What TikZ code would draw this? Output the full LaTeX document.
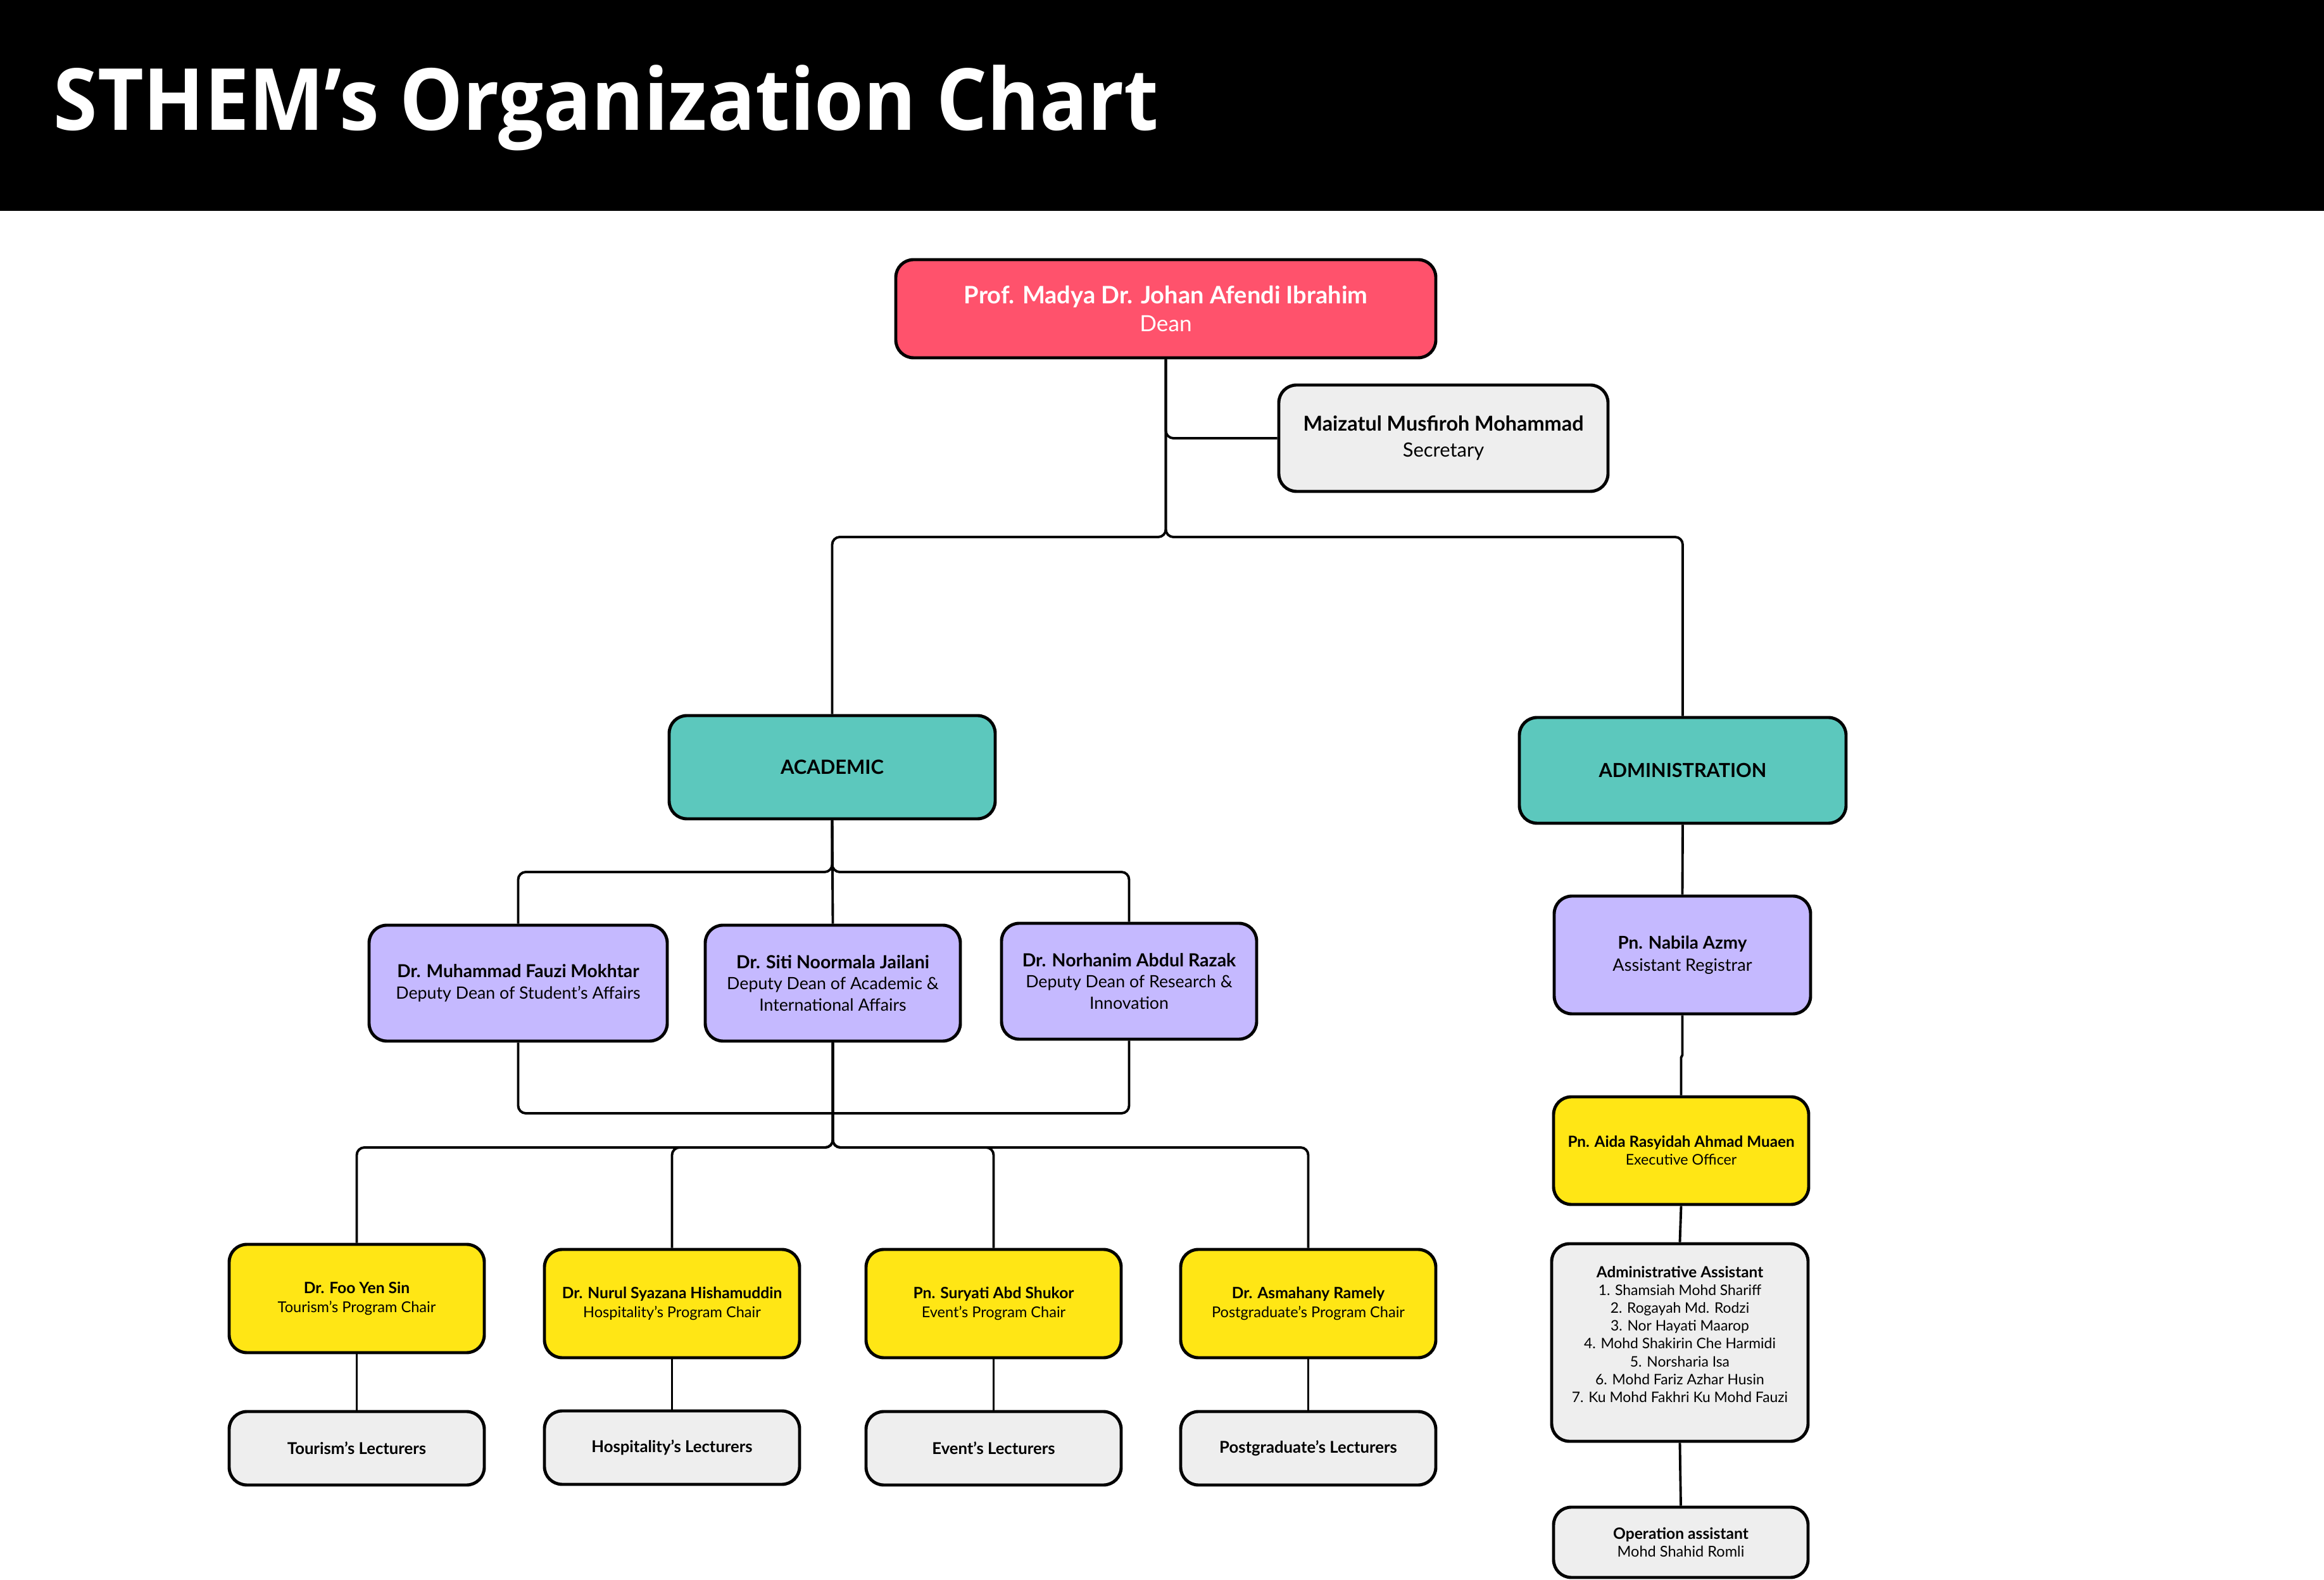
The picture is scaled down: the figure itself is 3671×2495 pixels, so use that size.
\documentclass[tikz,border=0pt]{standalone}
\usepackage{graphicx}
\usepackage{fontspec}
\setmainfont{Lato}
\newfontfamily\titlefont{Open Sans}
\usetikzlibrary{calc}
\definecolor{deanred}{RGB}{255,82,108}
\definecolor{tealbox}{RGB}{92,200,189}
\definecolor{lavender}{RGB}{197,185,255}
\definecolor{chairyellow}{RGB}{255,230,21}
\definecolor{lightgrey}{RGB}{238,238,238}
\newcommand\myfs[2]{\fontsize{#1pt}{#2pt}\selectfont}
\newcommand\nm[2]{{\fontsize{#1pt}{#1pt}\selectfont\bfseries #2}}
\begin{document}
\begin{tikzpicture}[x=0.01cm,y=-0.01cm,
  box/.style={draw=black, line width=1.4pt, rounded corners=0.28cm, align=center, inner sep=0pt, text=black},
  sz/.style 2 args={minimum width=#1*0.01cm, minimum height=#2*0.01cm},
  conn/.style={draw=black, line width=1.1pt, rounded corners=0.12cm},
  txt/.style={align=center, inner sep=0pt, text=black}
]
\useasboundingbox (0,0) rectangle (3671,2495);
\fill[white] (0,0) rectangle (3671,2495);
\fill[black] (0,0) rectangle (3671,333);
\node[anchor=base west, text=white, inner sep=0pt, font=\titlefont\bfseries\myfs{38.5}{40}] (title) at (84,206) {\scalebox{0.93}[1]{STHEM’s Organization Chart}};

% top level
\node[box, sz={853}{155}, fill=deanred, text=white, font=\myfs{10}{12.6}] (dean) at (1841.5,487.5) {\nm{10.8}{Prof. Madya Dr. Johan Afendi Ibrahim}\\Dean};
\node[box, sz={520}{168}, fill=lightgrey, font=\myfs{8.8}{11.6}] (sec) at (2280,692) {\nm{9.2}{Maizatul Musfiroh Mohammad}\\Secretary};

\node[box, sz={515}{163}, fill=tealbox, font=\bfseries\myfs{8.8}{10}] (acad) at (1314.5,1211.5) {ACADEMIC};
\node[box, sz={516}{167}, fill=tealbox, font=\bfseries\myfs{8.7}{10}] (admin) at (2658,1216.5) {ADMINISTRATION};

% deputies
\node[box, sz={471}{183}, fill=lavender, font=\myfs{7.6}{9.6}] (fauzi) at (818.5,1552.5) {\nm{8.0}{Dr. Muhammad Fauzi Mokhtar}\\Deputy Dean of Student’s Affairs};
\node[box, sz={403}{183}, fill=lavender, font=\myfs{7.6}{9.6}] (siti) at (1315.5,1552.5) {\nm{8.1}{Dr. Siti Noormala Jailani}\\Deputy Dean of Academic \&\\International Affairs};
\node[box, sz={403}{183}, fill=lavender, font=\myfs{7.6}{9.6}] (norh) at (1783.5,1549.5) {\nm{8.1}{Dr. Norhanim Abdul Razak}\\Deputy Dean of Research \&\\Innovation};

% administration side
\node[box, sz={405}{186}, fill=lavender, font=\myfs{7.7}{10}] (nabila) at (2657.5,1508) {\nm{7.9}{Pn. Nabila Azmy}\\Assistant Registrar};
\node[box, sz={403}{170}, fill=chairyellow, font=\myfs{6.6}{8}] (aida) at (2655.5,1817) {\nm{6.9}{Pn. Aida Rasyidah Ahmad Muaen}\\Executive Officer};
\node[box, sz={405}{312}, fill=lightgrey] (aa) at (2653.5,2120) {};
\node[txt, font=\myfs{6.5}{8}] (aatext) at (2653.5,2107) {\nm{6.9}{Administrative Assistant}\\1. Shamsiah Mohd Shariff\\2. Rogayah Md. Rodzi\\3. Nor Hayati Maarop\\4. Mohd Shakirin Che Harmidi\\5. Norsharia Isa\\6. Mohd Fariz Azhar Husin\\7. Ku Mohd Fakhri Ku Mohd Fauzi};
\node[box, sz={402}{111}, fill=lightgrey, font=\myfs{6.7}{8}] (op) at (2655,2435.5) {\nm{7.0}{Operation assistant}\\Mohd Shahid Romli};

% program chairs
\node[box, sz={403}{171}, fill=chairyellow, font=\myfs{6.7}{8.4}] (foo) at (563.5,2050.5) {\nm{7.0}{Dr. Foo Yen Sin}\\Tourism’s Program Chair};
\node[box, sz={403}{171}, fill=chairyellow, font=\myfs{6.7}{8.4}] (nurul) at (1061.5,2058.5) {\nm{7.0}{Dr. Nurul Syazana Hishamuddin}\\Hospitality’s Program Chair};
\node[box, sz={403}{171}, fill=chairyellow, font=\myfs{6.7}{8.4}] (sury) at (1569.5,2058.5) {\nm{7.0}{Pn. Suryati Abd Shukor}\\Event’s Program Chair};
\node[box, sz={403}{171}, fill=chairyellow, font=\myfs{6.7}{8.4}] (asma) at (2066.5,2058.5) {\nm{7.0}{Dr. Asmahany Ramely}\\Postgraduate’s Program Chair};

% lecturers
\node[box, sz={403}{116}, fill=lightgrey, font=\bfseries\myfs{7.3}{8.4}] (ltour) at (563.5,2287) {Tourism’s Lecturers};
\node[box, sz={403}{116}, fill=lightgrey, font=\bfseries\myfs{7.3}{8.4}] (lhosp) at (1061.5,2286) {Hospitality’s Lecturers};
\node[box, sz={403}{116}, fill=lightgrey, font=\bfseries\myfs{7.3}{8.4}] (levent) at (1569.5,2287) {Event’s Lecturers};
\node[box, sz={403}{116}, fill=lightgrey, font=\bfseries\myfs{7.3}{8.4}] (lpost) at (2066.5,2287) {Postgraduate’s Lecturers};

% junction coordinates
\coordinate (j1) at (1841.5,848);
\coordinate (j2) at (1314.5,1377);
\coordinate (j3) at (1315.5,1758);
\coordinate (j4) at (1315.5,1812);
\coordinate (jog1) at (2657.5,1666);
\coordinate (jog2) at (2655.5,1670);

% connectors
\draw[conn] (dean.south) |- (sec.west);
\draw[conn] (dean.south) -- (j1) -| (acad.north);
\draw[conn] (dean.south) -- (j1) -| (admin.north);

\draw[conn] (acad.south) -- (j2) -| (fauzi.north);
\draw[conn] (acad.south) -- (j2) -| (norh.north);
\draw[conn] (acad.south) -- (siti.north);

\draw[conn] (fauzi.south) |- (j3) -| (norh.south);

\draw[conn] (siti.south) -- (j4) -| (foo.north);
\draw[conn] (siti.south) -- (j4) -| (nurul.north);
\draw[conn] (siti.south) -- (j4) -| (sury.north);
\draw[conn] (siti.south) -- (j4) -| (asma.north);

\draw[conn] (foo.south) -- (ltour.north);
\draw[conn] (nurul.south) -- (lhosp.north);
\draw[conn] (sury.south) -- (levent.north);
\draw[conn] (asma.south) -- (lpost.north);

\draw[conn] (admin.south) -- (nabila.north);
\draw[conn, rounded corners=0pt] (nabila.south) -- (jog1) -- (jog2) -- (aida.north);
\draw[conn] (aida.south) -- (aa.north);
\draw[conn] (aa.south) -- (op.north);
\end{tikzpicture}
\end{document}
